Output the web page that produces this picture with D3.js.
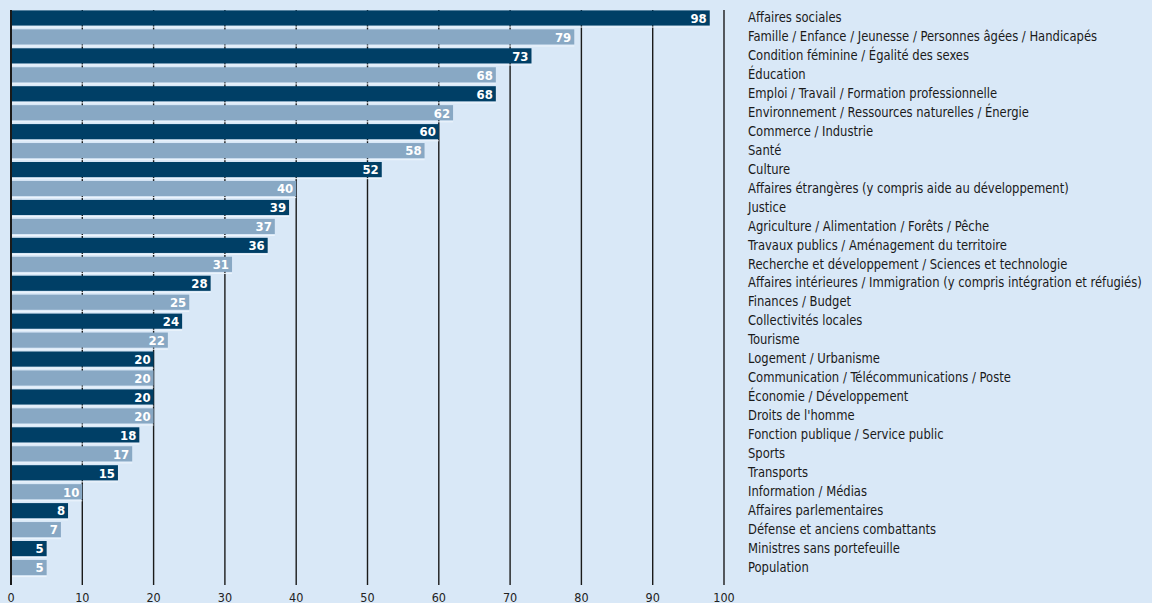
<!DOCTYPE html>
<html><head><meta charset="utf-8">
<script src="https://cdn.jsdelivr.net/npm/d3@7"></script>
<style>
html,body{margin:0;padding:0;background:#d9e8f7;}
svg{display:block;}
text{font-family:"DejaVu Sans Condensed","DejaVu Sans",sans-serif;font-stretch:condensed;}
</style></head>
<body>
<svg id="chart" width="1152" height="603"></svg>
<script>
const categories = [
  "Affaires sociales",
  "Famille / Enfance / Jeunesse / Personnes âgées / Handicapés",
  "Condition féminine / Égalité des sexes",
  "Éducation",
  "Emploi / Travail / Formation professionnelle",
  "Environnement / Ressources naturelles / Énergie",
  "Commerce / Industrie",
  "Santé",
  "Culture",
  "Affaires étrangères (y compris aide au développement)",
  "Justice",
  "Agriculture / Alimentation / Forêts / Pêche",
  "Travaux publics / Aménagement du territoire",
  "Recherche et développement / Sciences et technologie",
  "Affaires intérieures / Immigration (y compris intégration et réfugiés)",
  "Finances / Budget",
  "Collectivités locales",
  "Tourisme",
  "Logement / Urbanisme",
  "Communication / Télécommunications / Poste",
  "Économie / Développement",
  "Droits de l'homme",
  "Fonction publique / Service public",
  "Sports",
  "Transports",
  "Information / Médias",
  "Affaires parlementaires",
  "Défense et anciens combattants",
  "Ministres sans portefeuille",
  "Population"
];
const values = [98,79,73,68,68,62,60,58,52,40,39,37,36,31,28,25,24,22,20,20,20,20,18,17,15,10,8,7,5,5];
const tickValues = [0,10,20,30,40,50,60,70,80,90,100];

const svg = d3.select("#chart");
const x = d3.scaleLinear().domain([0,100]).range([11,724]);
const y = d3.scaleBand().domain(categories).range([8.5,577]).paddingInner(0.2).paddingOuter(0.1);
const gridTop = 10, gridBottom = 585;

// gridlines
svg.append("g").selectAll("line").data(tickValues.filter(d=>d>0)).join("line")
  .attr("x1",d=>x(d)).attr("x2",d=>x(d)).attr("y1",gridTop).attr("y2",gridBottom)
  .attr("stroke","#1a1a1a").attr("stroke-width",1.4);

// bars
const bars = svg.append("g");
bars.selectAll("rect").data(values).join("rect")
  .attr("x",x(0)).attr("y",(d,i)=>y(categories[i]))
  .attr("width",d=>x(d)-x(0)).attr("height",y.bandwidth())
  .attr("fill",(d,i)=>i%2===0?"#003f66":"#88a8c4");
bars.selectAll("line").data(values).join("line")
  .attr("x1",x(0)).attr("x2",d=>x(d))
  .attr("y1",(d,i)=>y(categories[i])+y.bandwidth()+1.5)
  .attr("y2",(d,i)=>y(categories[i])+y.bandwidth()+1.5)
  .attr("stroke","#eef5fc").attr("stroke-width",1);

// value labels
svg.append("g").selectAll("text").data(values).join("text")
  .attr("x",d=>x(d)-3).attr("y",(d,i)=>y(categories[i])+y.bandwidth()/2)
  .attr("dy","0.37em").attr("text-anchor","end")
  .attr("fill","#ffffff").attr("font-weight","bold").attr("font-size",13)
  .text(d=>d);

// zero axis line
svg.append("line").attr("x1",x(0)).attr("x2",x(0)).attr("y1",gridTop).attr("y2",gridBottom)
  .attr("stroke","#1a1a1a").attr("stroke-width",2);

// x tick labels
svg.append("g").selectAll("text").data(tickValues).join("text")
  .attr("x",d=>x(d)).attr("y",597).attr("dy","0.36em").attr("text-anchor","middle")
  .attr("fill","#222").attr("font-size",12.5).text(d=>d);

// category labels (horizontally condensed via transform)
const labels = svg.append("g").selectAll("text").data(categories).join("text")
  .attr("x",0).attr("y",0).attr("dy","0.3em")
  .attr("fill","#1a1a1a").attr("font-size",14).text(d=>d);
let maxW = 0;
labels.each(function(){ maxW = Math.max(maxW, this.getComputedTextLength()); });
const k = 394/maxW;
labels.attr("transform", d=>`translate(748,${y(d)+y.bandwidth()/2}) scale(${k},1)`);
</script>
</body></html>
